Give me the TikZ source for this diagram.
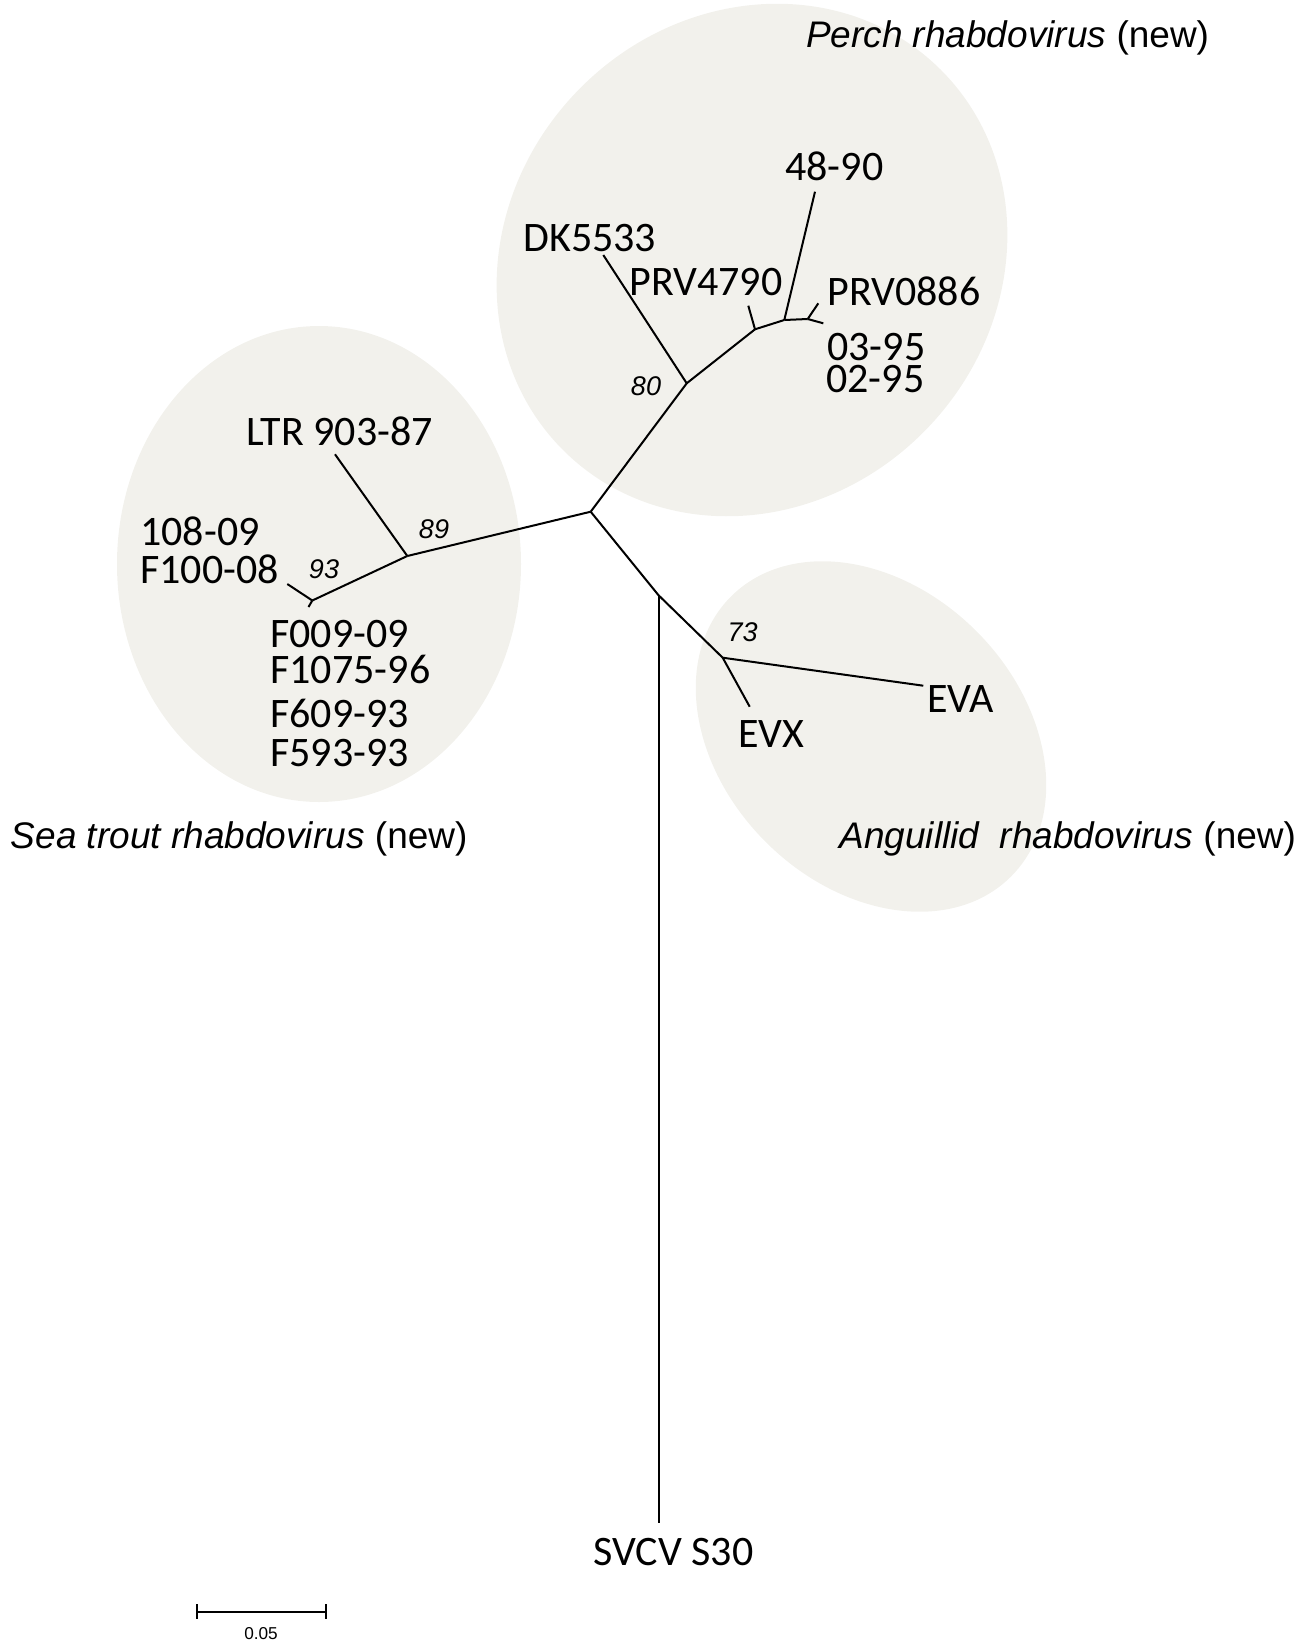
\documentclass[tikz,border=0pt]{standalone}
\usepackage{fontspec}
\setmainfont{Carlito}
\newfontfamily\arialfont{Liberation Sans}
\definecolor{clustfill}{RGB}{242,241,236}
\begin{document}
\begin{tikzpicture}[x=0.5pt,y=-0.5pt,
  branch/.style={line width=1pt, black},
  tiplabel/.style={anchor=base west, inner sep=0pt, font=\fontsize{21}{25}\selectfont},
  bootlabel/.style={inner sep=0pt, font=\arialfont\itshape\fontsize{13.5}{16}\selectfont},
  cladelabel/.style={anchor=base west, inner sep=0pt, font=\arialfont\fontsize{18.5}{22}\selectfont},
  cluster/.style={fill=clustfill}]
\useasboundingbox (0,0) rectangle (1309,1644);

% cluster backgrounds
\fill[cluster, rotate around={46:(752,260)}] (752,260) ellipse [x radius=134pt, y radius=121.5pt];
\fill[cluster] (319,564) ellipse [x radius=101pt, y radius=119pt];
\fill[cluster, rotate around={-45:(871,736.5)}] (871,736.5) ellipse [x radius=99pt, y radius=74.5pt];

% tree coordinates
\coordinate (R) at (590.7,511.7);
\coordinate (P80) at (686.7,383.3);
\coordinate (tDK) at (603.3,255);
\coordinate (P2) at (755,329.3);
\coordinate (tPRV4790) at (748.3,305.7);
\coordinate (P3) at (784.3,320);
\coordinate (t4890) at (815,191.7);
\coordinate (P4) at (807.7,319);
\coordinate (tPRV0886) at (818.3,303.3);
\coordinate (t0395) at (823.3,323.3);
\coordinate (S89) at (407.3,556);
\coordinate (tLTR) at (335,454.3);
\coordinate (S93) at (312.3,600.5);
\coordinate (tF100) at (287.3,584);
\coordinate (tF009) at (308.5,607);
\coordinate (J) at (658.5,595.2);
\coordinate (tSVCV) at (658.5,1523);
\coordinate (A73) at (722.7,657.7);
\coordinate (tEVA) at (923.3,685.7);
\coordinate (tEVX) at (749.7,706.7);

% branches
\draw[branch] (R) -- (P80);
\draw[branch] (P80) -- (tDK);
\draw[branch] (P80) -- (P2);
\draw[branch] (P2) -- (tPRV4790);
\draw[branch] (P2) -- (P3);
\draw[branch] (P3) -- (t4890);
\draw[branch] (P3) -- (P4);
\draw[branch] (P4) -- (tPRV0886);
\draw[branch] (P4) -- (t0395);
\draw[branch] (R) -- (S89);
\draw[branch] (S89) -- (tLTR);
\draw[branch] (S89) -- (S93);
\draw[branch] (S93) -- (tF100);
\draw[branch] (S93) -- (tF009);
\draw[branch] (R) -- (J);
\draw[branch] (J) -- (tSVCV);
\draw[branch] (J) -- (A73);
\draw[branch] (A73) -- (tEVA);
\draw[branch] (A73) -- (tEVX);

% tip labels
\node[tiplabel] (l4890) at (785,180) {48-90};
\node[tiplabel] (lDK) at (523,251.7) {DK5533};
\node[tiplabel] (lPRV4790) at (629,295) {PRV4790};
\node[tiplabel] (lPRV0886) at (827,305) {PRV0886};
\node[tiplabel] (l0395) at (827,360) {03-95};
\node[tiplabel] (l0295) at (826,392) {02-95};
\node[tiplabel] (lLTR) at (246,445) {LTR 903-87};
\node[tiplabel] (l10809) at (140,545) {108-09};
\node[tiplabel] (lF10008) at (140,583) {F100-08};
\node[tiplabel] (lF00909) at (270,647) {F009-09};
\node[tiplabel] (lF107596) at (270,683) {F1075-96};
\node[tiplabel] (lF60993) at (270,727) {F609-93};
\node[tiplabel] (lF59393) at (270,766) {F593-93};
\node[tiplabel] (lEVX) at (738,747) {EVX};
\node[tiplabel] (lEVA) at (927,712) {EVA};
\node[tiplabel] (lSVCV) at (593,1565) {SVCV S30};

% bootstrap values
\node[bootlabel] (b80) at (646,386) {80};
\node[bootlabel] (b89) at (434,529) {89};
\node[bootlabel] (b93) at (324,569) {93};
\node[bootlabel] (b73) at (742.7,632.3) {73};

% clade names
\node[cladelabel] (cPerch) at (805.6,47) {\textit{Perch rhabdovirus} (new)};
\node[cladelabel] (cSea) at (10.5,848) {\textit{Sea trout rhabdovirus} (new)};
\node[cladelabel] (cAng) at (839,848) {\textit{Anguillid~~rhabdovirus} (new)};

% scale bar
\coordinate (sb1) at (197.3,1611.7);
\coordinate (sb2) at (325.7,1611.7);
\draw[line width=0.9pt] (sb1) -- (sb2);
\draw[line width=0.9pt] ([yshift=3.75pt]sb1) -- ([yshift=-3.75pt]sb1);
\draw[line width=0.9pt] ([yshift=3.75pt]sb2) -- ([yshift=-3.75pt]sb2);
\node[inner sep=0pt, font=\arialfont\fontsize{8.6}{10}\selectfont] (sblabel) at (261,1634) {0.05};
\end{tikzpicture}
\end{document}
